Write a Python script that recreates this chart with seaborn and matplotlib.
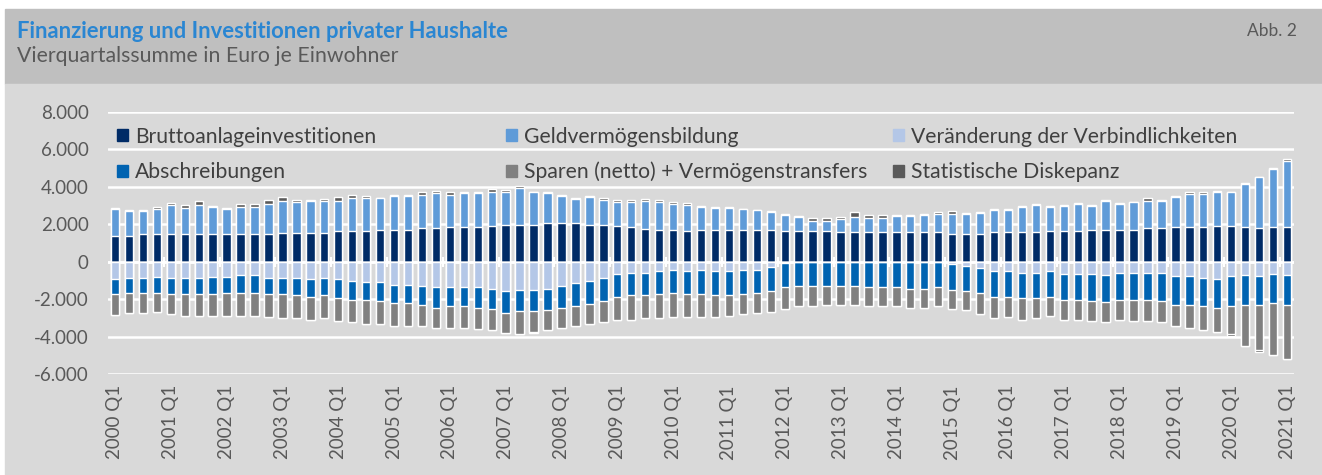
import numpy as np
import pandas as pd
import seaborn as sns
import matplotlib.pyplot as plt
from matplotlib.patches import Patch, Rectangle
from matplotlib.ticker import FuncFormatter

# quartale 2000 Q1 .. 2021 Q1
quarters = [f"{y} Q{q}" for y in range(2000, 2022) for q in range(1, 5)][:85]

brutto = [1400, 1400, 1490, 1490, 1490, 1490, 1490, 1490, 1490, 1490, 1490, 1490,
          1550, 1550, 1550, 1550, 1640, 1640, 1640, 1710, 1710, 1710, 1780, 1780,
          1840, 1840, 1840, 1910, 1980, 1980, 1980, 2050, 2050, 2050, 1980, 1980,
          1910, 1840, 1760, 1710, 1710, 1640, 1710, 1710, 1710, 1710, 1710, 1710,
          1640, 1640, 1640, 1640, 1570, 1570, 1570, 1570, 1570, 1570, 1570, 1570,
          1490, 1490, 1490, 1570, 1570, 1570, 1570, 1640, 1640, 1640, 1710, 1710,
          1710, 1710, 1780, 1780, 1850, 1850, 1850, 1930, 1930, 1850, 1780, 1850,
          1850]
geld = [1400, 1310, 1220, 1310, 1530, 1390, 1530, 1460, 1310, 1460, 1460, 1600,
        1690, 1620, 1690, 1690, 1600, 1750, 1750, 1670, 1800, 1800, 1800, 1870,
        1750, 1820, 1820, 1840, 1760, 1940, 1730, 1600, 1460, 1310, 1460, 1330,
        1260, 1330, 1480, 1460, 1390, 1390, 1240, 1170, 1170, 1100, 1030, 950,
        880, 740, 560, 560, 700, 830, 790, 790, 880, 880, 950, 990,
        1060, 1060, 1130, 1210, 1210, 1350, 1460, 1310, 1350, 1460, 1280, 1530,
        1390, 1460, 1460, 1460, 1600, 1750, 1780, 1780, 1820, 2320, 2750, 3110,
        3510]
verb = [-940, -880, -880, -810, -880, -880, -880, -810, -810, -720, -720, -880,
        -880, -880, -950, -880, -950, -1030, -1100, -1100, -1220, -1220, -1300, -1370,
        -1370, -1370, -1370, -1440, -1580, -1510, -1510, -1440, -1300, -1150, -1030, -880,
        -650, -580, -580, -500, -430, -500, -430, -500, -500, -430, -430, -290,
        -70, -40, 0, 0, 0, 0, 0, 0, 0, 0, 0, 0,
        -110, -220, -360, -500, -500, -580, -580, -500, -650, -650, -650, -720,
        -580, -580, -580, -580, -790, -790, -860, -940, -790, -720, -790, -650,
        -720]
abschr = [-760, -770, -770, -850, -850, -850, -850, -920, -850, -940, -940, -850,
          -850, -920, -920, -920, -990, -990, -920, -990, -1010, -1010, -1010, -1080,
          -1010, -1010, -1080, -1080, -1150, -1150, -1150, -1150, -1150, -1220, -1210, -1210,
          -1220, -1220, -1220, -1220, -1220, -1220, -1300, -1300, -1300, -1300, -1220, -1300,
          -1300, -1260, -1300, -1300, -1300, -1300, -1370, -1370, -1370, -1440, -1440, -1370,
          -1400, -1370, -1300, -1370, -1370, -1370, -1370, -1370, -1370, -1370, -1440, -1440,
          -1440, -1440, -1440, -1510, -1510, -1510, -1510, -1510, -1580, -1580, -1510, -1580,
          -1580]
sparen = [-1130, -1080, -1080, -1010, -1080, -1150, -1150, -1150, -1220, -1220, -1220, -1220,
          -1300, -1220, -1220, -1220, -1220, -1220, -1300, -1220, -1220, -1220, -1150, -1080,
          -1150, -1150, -1150, -1150, -1080, -1220, -1080, -1080, -1080, -1040, -1080, -1150,
          -1220, -1300, -1220, -1300, -1300, -1220, -1220, -1150, -1080, -1080, -1080, -1080,
          -1150, -1080, -1080, -1010, -1010, -1010, -1010, -1010, -1010, -1010, -1010, -1010,
          -1010, -1010, -1150, -1150, -1080, -1150, -1080, -1010, -1080, -1080, -1080, -1080,
          -1080, -1150, -1150, -1150, -1150, -1220, -1300, -1300, -1510, -2230, -2410, -2740,
          -2920]
diskrepanz = [70, 70, 70, 140, 140, 130, 220, 50, 70, 130, 130, 200,
              200, 130, 50, 130, 200, 200, 130, 50, 70, 70, 140, 140,
              130, 50, 50, 130, 70, 140, -70, 50, 70, 20, 70, 110,
              130, 130, 130, 130, 70, 130, 40, 70, 20, 20, 50, 50,
              50, 70, 140, 110, 140, 230, 130, 130, 40, 40, 40, 70,
              140, 70, 40, 20, 20, 40, 50, 40, 20, 50, 40, 50,
              50, 40, 140, 50, 70, 130, 70, 90, -70, 40, -110, 40,
              140]

names = ["Bruttoanlageinvestitionen", "Geldvermögensbildung",
         "Veränderung der Verbindlichkeiten", "Abschreibungen",
         "Sparen (netto) + Vermögenstransfers", "Statistische Diskepanz"]
colors = ["#002b66", "#5f9bd8", "#b4c7e7", "#0063b1", "#808080", "#5a5a5a"]

df = pd.DataFrame({"q": quarters, "brutto": brutto, "geld": geld, "verb": verb,
                   "abschr": abschr, "sparen": sparen, "disc": diskrepanz})
disc_pos = df["disc"].clip(lower=0)
disc_neg = df["disc"].clip(upper=0)

sns.set_style("white")
plt.rcParams['font.family'] = ['Lato', 'DejaVu Sans']
txt = "#595959"

fig = plt.figure(figsize=(13.22, 4.75), dpi=100)
fig.patch.set_facecolor("white")
W, H = 1322, 475
fig.patches.append(Rectangle((5 / W, 1 - 84 / H), 1, 75 / H, transform=fig.transFigure,
                             color="#bfbfbf", zorder=-2))
fig.patches.append(Rectangle((5 / W, 0), 1, 1 - 84 / H, transform=fig.transFigure,
                             color="#d9d9d9", zorder=-2))

fig.text(17 / W, 1 - 31 / H, "Finanzierung und Investitionen privater Haushalte",
         color="#2a86d2", fontsize=15.8, fontweight="bold", va="center")
fig.text(17 / W, 1 - 56 / H, "Vierquartalssumme in Euro je Einwohner",
         color=txt, fontsize=15.3, va="center")
fig.text(1297 / W, 1 - 31 / H, "Abb. 2", color=txt, fontsize=12.5, va="center", ha="right")

ax = fig.add_axes([108 / W, 1 - 374 / H, 1186 / W, 262 / H])
ax.set_facecolor("none")

# gestapelte balken ueber kumulierte summen
layers = [
    (df["brutto"] + df["geld"] + disc_pos, colors[5]),
    (df["brutto"] + df["geld"], colors[1]),
    (df["brutto"], colors[0]),
    (df["verb"] + df["abschr"] + df["sparen"] + disc_neg, colors[5]),
    (df["verb"] + df["abschr"] + df["sparen"], colors[4]),
    (df["verb"] + df["abschr"], colors[3]),
    (df["verb"], colors[2]),
]
for vals, c in layers:
    sns.barplot(x=df["q"], y=vals, color=c, saturation=1, width=0.6, ax=ax,
                errorbar=None, zorder=3)

ax.set_ylim(-6000, 8000)
ax.set_xlim(-0.5, len(quarters) - 0.5)
ax.set_yticks(range(-6000, 8001, 2000))
ax.yaxis.set_major_formatter(FuncFormatter(lambda v, p: f"{v:,.0f}".replace(",", ".")))
ax.yaxis.grid(True, color="white", lw=1.8)
ax.set_axisbelow(True)
ax.axhline(0, color="white", lw=2, zorder=2)
bounds = np.arange(3.5, len(quarters), 4)
ax.plot(bounds, np.zeros(len(bounds)), ls="none", marker="|", ms=7, mew=1.5,
        color="white", zorder=2)

ax.set_xticks(range(0, len(quarters), 4))
ax.set_xticklabels(quarters[::4], rotation=90)
ax.tick_params(axis="y", length=0, pad=14, labelsize=13.5, labelcolor=txt)
ax.tick_params(axis="x", length=0, pad=8, labelsize=13.5, labelcolor=txt)
ax.set_xlabel("")
ax.set_ylabel("")
for s in ax.spines.values():
    s.set_visible(False)

# legende in drei spalten
cols = [(0.0076, [0, 3]), (0.3356, [1, 4]), (0.6619, [2, 5])]
for i, (x0, idx) in enumerate(cols):
    hs = [Patch(color=colors[j], label=names[j]) for j in idx]
    leg = ax.legend(handles=hs, loc="center left", bbox_to_anchor=(x0, 0.838),
                    frameon=False, fontsize=15.2, handlelength=0.5, handleheight=0.5,
                    handletextpad=0.35, labelspacing=0.72, borderpad=0, borderaxespad=0,
                    labelcolor="#404040")
    if i < 2:
        ax.add_artist(leg)

fig.savefig("out.png", dpi=100)
